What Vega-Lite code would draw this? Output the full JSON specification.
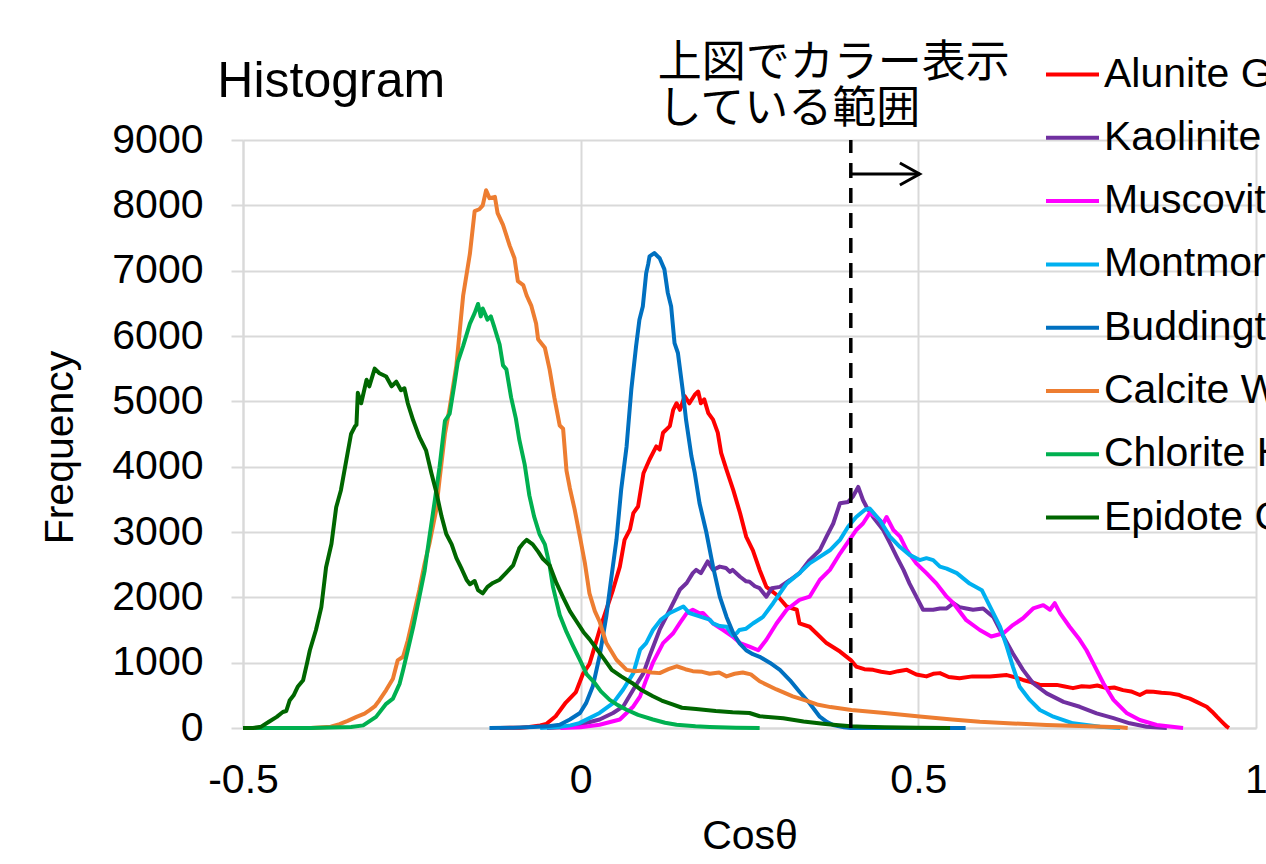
{
"$schema": "https://vega.github.io/schema/vega-lite/v6.json",
"width": 1013, "height": 588,
"autosize": {"type": "none"},
"padding": {"left": 243, "top": 140, "right": 10, "bottom": 136},
"background": "white",
"config": {"font": "Liberation Sans", "view": {"stroke": null}},
"datasets": {
"names": [
{"s":"Al","mineral":"Alunite GDS84 Na03"},{"s":"Ka","mineral":"Kaolinite CM9"},{"s":"Mu","mineral":"Muscovite GDS107"},{"s":"Mo","mineral":"Montmorillonite CM20"},{"s":"Bu","mineral":"Buddingtonite GDS85 D-206"},{"s":"Ca","mineral":"Calcite WS272"},{"s":"Ch","mineral":"Chlorite HS179.3B"},{"s":"Ep","mineral":"Epidote GDS26.75"}],
"curves": [
{"s":"Al","x":-0.12,"y":0},{"s":"Al","x":-0.09,"y":5},{"s":"Al","x":-0.076,"y":15},{"s":"Al","x":-0.06,"y":40},{"s":"Al","x":-0.051,"y":60},{"s":"Al","x":-0.037,"y":180},{"s":"Al","x":-0.022,"y":390},{"s":"Al","x":-0.007,"y":550},{"s":"Al","x":0.003,"y":820},{"s":"Al","x":0.013,"y":980},{"s":"Al","x":0.018,"y":1150},{"s":"Al","x":0.028,"y":1500},{"s":"Al","x":0.038,"y":1810},{"s":"Al","x":0.048,"y":2120},{"s":"Al","x":0.058,"y":2470},{"s":"Al","x":0.065,"y":2880},{"s":"Al","x":0.073,"y":3040},{"s":"Al","x":0.078,"y":3290},{"s":"Al","x":0.085,"y":3390},{"s":"Al","x":0.093,"y":3900},{"s":"Al","x":0.102,"y":4110},{"s":"Al","x":0.112,"y":4310},{"s":"Al","x":0.117,"y":4260},{"s":"Al","x":0.122,"y":4520},{"s":"Al","x":0.132,"y":4620},{"s":"Al","x":0.137,"y":4870},{"s":"Al","x":0.142,"y":4970},{"s":"Al","x":0.147,"y":4870},{"s":"Al","x":0.154,"y":5080},{"s":"Al","x":0.161,"y":4970},{"s":"Al","x":0.169,"y":5100},{"s":"Al","x":0.174,"y":5150},{"s":"Al","x":0.178,"y":4970},{"s":"Al","x":0.183,"y":5030},{"s":"Al","x":0.189,"y":4820},{"s":"Al","x":0.196,"y":4720},{"s":"Al","x":0.203,"y":4520},{"s":"Al","x":0.208,"y":4210},{"s":"Al","x":0.216,"y":3950},{"s":"Al","x":0.226,"y":3640},{"s":"Al","x":0.236,"y":3290},{"s":"Al","x":0.245,"y":2930},{"s":"Al","x":0.255,"y":2720},{"s":"Al","x":0.265,"y":2420},{"s":"Al","x":0.275,"y":2160},{"s":"Al","x":0.29,"y":2040},{"s":"Al","x":0.305,"y":1860},{"s":"Al","x":0.32,"y":1810},{"s":"Al","x":0.324,"y":1600},{"s":"Al","x":0.339,"y":1550},{"s":"Al","x":0.349,"y":1450},{"s":"Al","x":0.364,"y":1300},{"s":"Al","x":0.384,"y":1170},{"s":"Al","x":0.4,"y":1040},{"s":"Al","x":0.408,"y":940},{"s":"Al","x":0.42,"y":900},{"s":"Al","x":0.433,"y":890},{"s":"Al","x":0.445,"y":860},{"s":"Al","x":0.458,"y":840},{"s":"Al","x":0.47,"y":870},{"s":"Al","x":0.483,"y":890},{"s":"Al","x":0.497,"y":820},{"s":"Al","x":0.512,"y":790},{"s":"Al","x":0.522,"y":830},{"s":"Al","x":0.532,"y":840},{"s":"Al","x":0.545,"y":780},{"s":"Al","x":0.561,"y":760},{"s":"Al","x":0.58,"y":790},{"s":"Al","x":0.606,"y":790},{"s":"Al","x":0.631,"y":810},{"s":"Al","x":0.645,"y":770},{"s":"Al","x":0.655,"y":735},{"s":"Al","x":0.668,"y":700},{"s":"Al","x":0.68,"y":660},{"s":"Al","x":0.705,"y":660},{"s":"Al","x":0.715,"y":640},{"s":"Al","x":0.729,"y":610},{"s":"Al","x":0.742,"y":640},{"s":"Al","x":0.754,"y":630},{"s":"Al","x":0.765,"y":650},{"s":"Al","x":0.779,"y":610},{"s":"Al","x":0.79,"y":620},{"s":"Al","x":0.803,"y":580},{"s":"Al","x":0.815,"y":560},{"s":"Al","x":0.828,"y":505},{"s":"Al","x":0.838,"y":560},{"s":"Al","x":0.848,"y":555},{"s":"Al","x":0.86,"y":540},{"s":"Al","x":0.873,"y":530},{"s":"Al","x":0.885,"y":510},{"s":"Al","x":0.892,"y":480},{"s":"Al","x":0.902,"y":450},{"s":"Al","x":0.912,"y":400},{"s":"Al","x":0.92,"y":360},{"s":"Al","x":0.927,"y":325},{"s":"Al","x":0.935,"y":250},{"s":"Al","x":0.942,"y":173},{"s":"Al","x":0.95,"y":90},{"s":"Al","x":0.957,"y":20},{"s":"Al","x":0.96,"y":0},
{"s":"Ka","x":-0.05,"y":0},{"s":"Ka","x":-0.02,"y":15},{"s":"Ka","x":-0.002,"y":50},{"s":"Ka","x":0.028,"y":130},{"s":"Ka","x":0.048,"y":230},{"s":"Ka","x":0.063,"y":330},{"s":"Ka","x":0.078,"y":590},{"s":"Ka","x":0.093,"y":840},{"s":"Ka","x":0.102,"y":1100},{"s":"Ka","x":0.117,"y":1505},{"s":"Ka","x":0.132,"y":1810},{"s":"Ka","x":0.147,"y":2120},{"s":"Ka","x":0.157,"y":2220},{"s":"Ka","x":0.166,"y":2370},{"s":"Ka","x":0.171,"y":2420},{"s":"Ka","x":0.178,"y":2370},{"s":"Ka","x":0.188,"y":2550},{"s":"Ka","x":0.196,"y":2420},{"s":"Ka","x":0.206,"y":2470},{"s":"Ka","x":0.215,"y":2450},{"s":"Ka","x":0.221,"y":2390},{"s":"Ka","x":0.225,"y":2420},{"s":"Ka","x":0.236,"y":2315},{"s":"Ka","x":0.245,"y":2245},{"s":"Ka","x":0.25,"y":2240},{"s":"Ka","x":0.258,"y":2170},{"s":"Ka","x":0.265,"y":2140},{"s":"Ka","x":0.275,"y":2010},{"s":"Ka","x":0.283,"y":2140},{"s":"Ka","x":0.295,"y":2160},{"s":"Ka","x":0.31,"y":2265},{"s":"Ka","x":0.324,"y":2370},{"s":"Ka","x":0.339,"y":2570},{"s":"Ka","x":0.354,"y":2720},{"s":"Ka","x":0.364,"y":2930},{"s":"Ka","x":0.374,"y":3130},{"s":"Ka","x":0.384,"y":3440},{"s":"Ka","x":0.396,"y":3460},{"s":"Ka","x":0.403,"y":3540},{"s":"Ka","x":0.411,"y":3690},{"s":"Ka","x":0.418,"y":3490},{"s":"Ka","x":0.423,"y":3390},{"s":"Ka","x":0.433,"y":3230},{"s":"Ka","x":0.448,"y":3030},{"s":"Ka","x":0.458,"y":2830},{"s":"Ka","x":0.468,"y":2620},{"s":"Ka","x":0.478,"y":2420},{"s":"Ka","x":0.487,"y":2210},{"s":"Ka","x":0.497,"y":2010},{"s":"Ka","x":0.507,"y":1810},{"s":"Ka","x":0.522,"y":1810},{"s":"Ka","x":0.532,"y":1830},{"s":"Ka","x":0.542,"y":1830},{"s":"Ka","x":0.552,"y":1910},{"s":"Ka","x":0.561,"y":1850},{"s":"Ka","x":0.571,"y":1830},{"s":"Ka","x":0.581,"y":1810},{"s":"Ka","x":0.596,"y":1830},{"s":"Ka","x":0.611,"y":1700},{"s":"Ka","x":0.626,"y":1400},{"s":"Ka","x":0.64,"y":1140},{"s":"Ka","x":0.655,"y":890},{"s":"Ka","x":0.67,"y":685},{"s":"Ka","x":0.69,"y":530},{"s":"Ka","x":0.715,"y":400},{"s":"Ka","x":0.739,"y":325},{"s":"Ka","x":0.764,"y":225},{"s":"Ka","x":0.789,"y":150},{"s":"Ka","x":0.813,"y":72},{"s":"Ka","x":0.838,"y":20},{"s":"Ka","x":0.868,"y":0},
{"s":"Mu","x":-0.03,"y":0},{"s":"Mu","x":0.0,"y":10},{"s":"Mu","x":0.028,"y":50},{"s":"Mu","x":0.058,"y":130},{"s":"Mu","x":0.078,"y":330},{"s":"Mu","x":0.088,"y":485},{"s":"Mu","x":0.097,"y":740},{"s":"Mu","x":0.107,"y":1000},{"s":"Mu","x":0.122,"y":1300},{"s":"Mu","x":0.137,"y":1450},{"s":"Mu","x":0.147,"y":1610},{"s":"Mu","x":0.157,"y":1760},{"s":"Mu","x":0.166,"y":1810},{"s":"Mu","x":0.176,"y":1755},{"s":"Mu","x":0.181,"y":1760},{"s":"Mu","x":0.196,"y":1600},{"s":"Mu","x":0.211,"y":1500},{"s":"Mu","x":0.225,"y":1400},{"s":"Mu","x":0.236,"y":1300},{"s":"Mu","x":0.25,"y":1245},{"s":"Mu","x":0.263,"y":1190},{"s":"Mu","x":0.275,"y":1350},{"s":"Mu","x":0.29,"y":1600},{"s":"Mu","x":0.305,"y":1810},{"s":"Mu","x":0.324,"y":1960},{"s":"Mu","x":0.339,"y":2010},{"s":"Mu","x":0.354,"y":2265},{"s":"Mu","x":0.369,"y":2420},{"s":"Mu","x":0.384,"y":2670},{"s":"Mu","x":0.398,"y":2880},{"s":"Mu","x":0.408,"y":3030},{"s":"Mu","x":0.418,"y":3130},{"s":"Mu","x":0.428,"y":3290},{"s":"Mu","x":0.438,"y":3230},{"s":"Mu","x":0.448,"y":3130},{"s":"Mu","x":0.453,"y":3230},{"s":"Mu","x":0.463,"y":3030},{"s":"Mu","x":0.473,"y":2930},{"s":"Mu","x":0.483,"y":2720},{"s":"Mu","x":0.497,"y":2520},{"s":"Mu","x":0.512,"y":2370},{"s":"Mu","x":0.527,"y":2210},{"s":"Mu","x":0.542,"y":2010},{"s":"Mu","x":0.552,"y":1910},{"s":"Mu","x":0.571,"y":1650},{"s":"Mu","x":0.591,"y":1500},{"s":"Mu","x":0.608,"y":1400},{"s":"Mu","x":0.626,"y":1450},{"s":"Mu","x":0.64,"y":1575},{"s":"Mu","x":0.655,"y":1680},{"s":"Mu","x":0.67,"y":1830},{"s":"Mu","x":0.685,"y":1880},{"s":"Mu","x":0.695,"y":1810},{"s":"Mu","x":0.702,"y":1910},{"s":"Mu","x":0.71,"y":1755},{"s":"Mu","x":0.724,"y":1550},{"s":"Mu","x":0.739,"y":1350},{"s":"Mu","x":0.749,"y":1190},{"s":"Mu","x":0.759,"y":990},{"s":"Mu","x":0.774,"y":685},{"s":"Mu","x":0.789,"y":430},{"s":"Mu","x":0.809,"y":225},{"s":"Mu","x":0.828,"y":122},{"s":"Mu","x":0.853,"y":46},{"s":"Mu","x":0.892,"y":0},
{"s":"Mo","x":-0.06,"y":0},{"s":"Mo","x":-0.03,"y":20},{"s":"Mo","x":-0.015,"y":40},{"s":"Mo","x":-0.002,"y":75},{"s":"Mo","x":0.028,"y":230},{"s":"Mo","x":0.048,"y":380},{"s":"Mo","x":0.063,"y":590},{"s":"Mo","x":0.078,"y":840},{"s":"Mo","x":0.088,"y":1200},{"s":"Mo","x":0.097,"y":1300},{"s":"Mo","x":0.107,"y":1500},{"s":"Mo","x":0.119,"y":1660},{"s":"Mo","x":0.132,"y":1760},{"s":"Mo","x":0.142,"y":1810},{"s":"Mo","x":0.152,"y":1860},{"s":"Mo","x":0.161,"y":1760},{"s":"Mo","x":0.176,"y":1710},{"s":"Mo","x":0.191,"y":1660},{"s":"Mo","x":0.196,"y":1600},{"s":"Mo","x":0.206,"y":1560},{"s":"Mo","x":0.216,"y":1550},{"s":"Mo","x":0.225,"y":1420},{"s":"Mo","x":0.231,"y":1450},{"s":"Mo","x":0.235,"y":1500},{"s":"Mo","x":0.245,"y":1520},{"s":"Mo","x":0.255,"y":1600},{"s":"Mo","x":0.27,"y":1700},{"s":"Mo","x":0.285,"y":1910},{"s":"Mo","x":0.295,"y":2060},{"s":"Mo","x":0.305,"y":2210},{"s":"Mo","x":0.324,"y":2370},{"s":"Mo","x":0.339,"y":2520},{"s":"Mo","x":0.354,"y":2620},{"s":"Mo","x":0.369,"y":2720},{"s":"Mo","x":0.384,"y":2880},{"s":"Mo","x":0.396,"y":3080},{"s":"Mo","x":0.408,"y":3230},{"s":"Mo","x":0.421,"y":3340},{"s":"Mo","x":0.428,"y":3360},{"s":"Mo","x":0.443,"y":3180},{"s":"Mo","x":0.458,"y":2930},{"s":"Mo","x":0.473,"y":2770},{"s":"Mo","x":0.487,"y":2650},{"s":"Mo","x":0.502,"y":2570},{"s":"Mo","x":0.512,"y":2600},{"s":"Mo","x":0.522,"y":2570},{"s":"Mo","x":0.532,"y":2470},{"s":"Mo","x":0.542,"y":2440},{"s":"Mo","x":0.557,"y":2370},{"s":"Mo","x":0.576,"y":2210},{"s":"Mo","x":0.594,"y":2110},{"s":"Mo","x":0.606,"y":1860},{"s":"Mo","x":0.621,"y":1550},{"s":"Mo","x":0.631,"y":1245},{"s":"Mo","x":0.64,"y":940},{"s":"Mo","x":0.65,"y":630},{"s":"Mo","x":0.665,"y":430},{"s":"Mo","x":0.68,"y":275},{"s":"Mo","x":0.7,"y":173},{"s":"Mo","x":0.729,"y":72},{"s":"Mo","x":0.769,"y":20},{"s":"Mo","x":0.799,"y":0},
{"s":"Bu","x":-0.135,"y":0},{"s":"Bu","x":-0.1,"y":5},{"s":"Bu","x":-0.07,"y":15},{"s":"Bu","x":-0.05,"y":25},{"s":"Bu","x":-0.031,"y":50},{"s":"Bu","x":-0.016,"y":130},{"s":"Bu","x":-0.001,"y":230},{"s":"Bu","x":0.008,"y":380},{"s":"Bu","x":0.018,"y":640},{"s":"Bu","x":0.028,"y":1100},{"s":"Bu","x":0.038,"y":1710},{"s":"Bu","x":0.045,"y":2270},{"s":"Bu","x":0.053,"y":2880},{"s":"Bu","x":0.06,"y":3650},{"s":"Bu","x":0.068,"y":4310},{"s":"Bu","x":0.075,"y":5180},{"s":"Bu","x":0.082,"y":5840},{"s":"Bu","x":0.087,"y":6250},{"s":"Bu","x":0.092,"y":6450},{"s":"Bu","x":0.097,"y":6960},{"s":"Bu","x":0.1,"y":7100},{"s":"Bu","x":0.102,"y":7220},{"s":"Bu","x":0.109,"y":7270},{"s":"Bu","x":0.117,"y":7190},{"s":"Bu","x":0.124,"y":7020},{"s":"Bu","x":0.129,"y":6660},{"s":"Bu","x":0.134,"y":6450},{"s":"Bu","x":0.139,"y":5890},{"s":"Bu","x":0.144,"y":5740},{"s":"Bu","x":0.151,"y":5180},{"s":"Bu","x":0.156,"y":4720},{"s":"Bu","x":0.164,"y":4160},{"s":"Bu","x":0.169,"y":3900},{"s":"Bu","x":0.176,"y":3440},{"s":"Bu","x":0.186,"y":3000},{"s":"Bu","x":0.196,"y":2470},{"s":"Bu","x":0.206,"y":2010},{"s":"Bu","x":0.216,"y":1700},{"s":"Bu","x":0.226,"y":1450},{"s":"Bu","x":0.235,"y":1300},{"s":"Bu","x":0.245,"y":1190},{"s":"Bu","x":0.255,"y":1130},{"s":"Bu","x":0.265,"y":1090},{"s":"Bu","x":0.28,"y":1000},{"s":"Bu","x":0.295,"y":890},{"s":"Bu","x":0.31,"y":730},{"s":"Bu","x":0.324,"y":555},{"s":"Bu","x":0.339,"y":378},{"s":"Bu","x":0.354,"y":173},{"s":"Bu","x":0.365,"y":90},{"s":"Bu","x":0.374,"y":46},{"s":"Bu","x":0.39,"y":10},{"s":"Bu","x":0.4,"y":0},{"s":"Bu","x":0.57,"y":0},
{"s":"Ca","x":-0.4,"y":0},{"s":"Ca","x":-0.37,"y":20},{"s":"Ca","x":-0.357,"y":60},{"s":"Ca","x":-0.345,"y":110},{"s":"Ca","x":-0.332,"y":170},{"s":"Ca","x":-0.32,"y":220},{"s":"Ca","x":-0.313,"y":270},{"s":"Ca","x":-0.305,"y":330},{"s":"Ca","x":-0.298,"y":425},{"s":"Ca","x":-0.288,"y":580},{"s":"Ca","x":-0.278,"y":755},{"s":"Ca","x":-0.271,"y":1035},{"s":"Ca","x":-0.263,"y":1090},{"s":"Ca","x":-0.256,"y":1340},{"s":"Ca","x":-0.248,"y":1700},{"s":"Ca","x":-0.239,"y":2110},{"s":"Ca","x":-0.231,"y":2520},{"s":"Ca","x":-0.224,"y":2820},{"s":"Ca","x":-0.214,"y":3330},{"s":"Ca","x":-0.209,"y":3800},{"s":"Ca","x":-0.201,"y":4500},{"s":"Ca","x":-0.194,"y":4900},{"s":"Ca","x":-0.184,"y":5550},{"s":"Ca","x":-0.174,"y":6620},{"s":"Ca","x":-0.164,"y":7260},{"s":"Ca","x":-0.157,"y":7910},{"s":"Ca","x":-0.15,"y":7940},{"s":"Ca","x":-0.145,"y":8000},{"s":"Ca","x":-0.14,"y":8230},{"s":"Ca","x":-0.135,"y":8110},{"s":"Ca","x":-0.127,"y":8130},{"s":"Ca","x":-0.123,"y":7880},{"s":"Ca","x":-0.115,"y":7700},{"s":"Ca","x":-0.105,"y":7380},{"s":"Ca","x":-0.098,"y":7190},{"s":"Ca","x":-0.093,"y":6840},{"s":"Ca","x":-0.085,"y":6780},{"s":"Ca","x":-0.08,"y":6620},{"s":"Ca","x":-0.073,"y":6460},{"s":"Ca","x":-0.066,"y":6190},{"s":"Ca","x":-0.063,"y":5950},{"s":"Ca","x":-0.053,"y":5820},{"s":"Ca","x":-0.046,"y":5490},{"s":"Ca","x":-0.039,"y":5060},{"s":"Ca","x":-0.031,"y":4630},{"s":"Ca","x":-0.026,"y":4580},{"s":"Ca","x":-0.021,"y":3940},{"s":"Ca","x":-0.016,"y":3670},{"s":"Ca","x":-0.009,"y":3350},{"s":"Ca","x":-0.001,"y":2920},{"s":"Ca","x":0.006,"y":2540},{"s":"Ca","x":0.013,"y":2060},{"s":"Ca","x":0.021,"y":1790},{"s":"Ca","x":0.028,"y":1630},{"s":"Ca","x":0.038,"y":1300},{"s":"Ca","x":0.053,"y":1045},{"s":"Ca","x":0.068,"y":890},{"s":"Ca","x":0.08,"y":870},{"s":"Ca","x":0.093,"y":880},{"s":"Ca","x":0.105,"y":850},{"s":"Ca","x":0.117,"y":840},{"s":"Ca","x":0.13,"y":900},{"s":"Ca","x":0.142,"y":945},{"s":"Ca","x":0.155,"y":900},{"s":"Ca","x":0.166,"y":870},{"s":"Ca","x":0.18,"y":860},{"s":"Ca","x":0.191,"y":830},{"s":"Ca","x":0.205,"y":850},{"s":"Ca","x":0.216,"y":790},{"s":"Ca","x":0.228,"y":830},{"s":"Ca","x":0.24,"y":850},{"s":"Ca","x":0.252,"y":820},{"s":"Ca","x":0.265,"y":715},{"s":"Ca","x":0.29,"y":590},{"s":"Ca","x":0.314,"y":485},{"s":"Ca","x":0.334,"y":420},{"s":"Ca","x":0.35,"y":360},{"s":"Ca","x":0.37,"y":320},{"s":"Ca","x":0.401,"y":275},{"s":"Ca","x":0.45,"y":230},{"s":"Ca","x":0.502,"y":175},{"s":"Ca","x":0.55,"y":130},{"s":"Ca","x":0.591,"y":97},{"s":"Ca","x":0.64,"y":70},{"s":"Ca","x":0.69,"y":46},{"s":"Ca","x":0.75,"y":25},{"s":"Ca","x":0.799,"y":10},{"s":"Ca","x":0.81,"y":0},
{"s":"Ch","x":-0.5,"y":0},{"s":"Ch","x":-0.4,"y":0},{"s":"Ch","x":-0.34,"y":15},{"s":"Ch","x":-0.322,"y":40},{"s":"Ch","x":-0.303,"y":170},{"s":"Ch","x":-0.288,"y":370},{"s":"Ch","x":-0.278,"y":450},{"s":"Ch","x":-0.268,"y":680},{"s":"Ch","x":-0.263,"y":885},{"s":"Ch","x":-0.256,"y":1190},{"s":"Ch","x":-0.248,"y":1545},{"s":"Ch","x":-0.239,"y":2000},{"s":"Ch","x":-0.231,"y":2410},{"s":"Ch","x":-0.224,"y":2920},{"s":"Ch","x":-0.216,"y":3480},{"s":"Ch","x":-0.209,"y":3990},{"s":"Ch","x":-0.201,"y":4700},{"s":"Ch","x":-0.194,"y":4810},{"s":"Ch","x":-0.187,"y":5260},{"s":"Ch","x":-0.182,"y":5600},{"s":"Ch","x":-0.174,"y":5850},{"s":"Ch","x":-0.164,"y":6190},{"s":"Ch","x":-0.157,"y":6350},{"s":"Ch","x":-0.152,"y":6490},{"s":"Ch","x":-0.148,"y":6300},{"s":"Ch","x":-0.145,"y":6420},{"s":"Ch","x":-0.14,"y":6300},{"s":"Ch","x":-0.138,"y":6250},{"s":"Ch","x":-0.133,"y":6300},{"s":"Ch","x":-0.128,"y":6140},{"s":"Ch","x":-0.12,"y":5870},{"s":"Ch","x":-0.115,"y":5550},{"s":"Ch","x":-0.11,"y":5490},{"s":"Ch","x":-0.103,"y":5060},{"s":"Ch","x":-0.096,"y":4740},{"s":"Ch","x":-0.091,"y":4420},{"s":"Ch","x":-0.083,"y":4040},{"s":"Ch","x":-0.076,"y":3560},{"s":"Ch","x":-0.069,"y":3240},{"s":"Ch","x":-0.061,"y":2970},{"s":"Ch","x":-0.053,"y":2810},{"s":"Ch","x":-0.046,"y":2490},{"s":"Ch","x":-0.041,"y":2160},{"s":"Ch","x":-0.031,"y":1730},{"s":"Ch","x":-0.021,"y":1470},{"s":"Ch","x":-0.011,"y":1250},{"s":"Ch","x":-0.001,"y":1040},{"s":"Ch","x":0.009,"y":820},{"s":"Ch","x":0.02,"y":700},{"s":"Ch","x":0.03,"y":560},{"s":"Ch","x":0.043,"y":430},{"s":"Ch","x":0.055,"y":350},{"s":"Ch","x":0.068,"y":280},{"s":"Ch","x":0.085,"y":200},{"s":"Ch","x":0.107,"y":130},{"s":"Ch","x":0.125,"y":80},{"s":"Ch","x":0.142,"y":50},{"s":"Ch","x":0.17,"y":25},{"s":"Ch","x":0.191,"y":15},{"s":"Ch","x":0.23,"y":5},{"s":"Ch","x":0.265,"y":0},
{"s":"Ep","x":-0.5,"y":0},{"s":"Ep","x":-0.485,"y":0},{"s":"Ep","x":-0.473,"y":20},{"s":"Ep","x":-0.461,"y":100},{"s":"Ep","x":-0.45,"y":170},{"s":"Ep","x":-0.441,"y":245},{"s":"Ep","x":-0.436,"y":260},{"s":"Ep","x":-0.431,"y":420},{"s":"Ep","x":-0.425,"y":500},{"s":"Ep","x":-0.419,"y":630},{"s":"Ep","x":-0.411,"y":730},{"s":"Ep","x":-0.405,"y":1000},{"s":"Ep","x":-0.401,"y":1190},{"s":"Ep","x":-0.392,"y":1500},{"s":"Ep","x":-0.384,"y":1850},{"s":"Ep","x":-0.377,"y":2460},{"s":"Ep","x":-0.369,"y":2820},{"s":"Ep","x":-0.362,"y":3380},{"s":"Ep","x":-0.355,"y":3640},{"s":"Ep","x":-0.347,"y":4100},{"s":"Ep","x":-0.34,"y":4500},{"s":"Ep","x":-0.334,"y":4620},{"s":"Ep","x":-0.332,"y":4640},{"s":"Ep","x":-0.33,"y":5130},{"s":"Ep","x":-0.325,"y":4970},{"s":"Ep","x":-0.317,"y":5330},{"s":"Ep","x":-0.313,"y":5230},{"s":"Ep","x":-0.305,"y":5500},{"s":"Ep","x":-0.298,"y":5430},{"s":"Ep","x":-0.288,"y":5380},{"s":"Ep","x":-0.28,"y":5230},{"s":"Ep","x":-0.273,"y":5300},{"s":"Ep","x":-0.266,"y":5170},{"s":"Ep","x":-0.261,"y":5200},{"s":"Ep","x":-0.256,"y":4970},{"s":"Ep","x":-0.248,"y":4710},{"s":"Ep","x":-0.239,"y":4460},{"s":"Ep","x":-0.229,"y":4250},{"s":"Ep","x":-0.221,"y":3900},{"s":"Ep","x":-0.214,"y":3620},{"s":"Ep","x":-0.206,"y":3240},{"s":"Ep","x":-0.199,"y":2970},{"s":"Ep","x":-0.191,"y":2810},{"s":"Ep","x":-0.184,"y":2600},{"s":"Ep","x":-0.176,"y":2430},{"s":"Ep","x":-0.169,"y":2270},{"s":"Ep","x":-0.164,"y":2200},{"s":"Ep","x":-0.157,"y":2250},{"s":"Ep","x":-0.152,"y":2110},{"s":"Ep","x":-0.145,"y":2060},{"s":"Ep","x":-0.138,"y":2160},{"s":"Ep","x":-0.13,"y":2220},{"s":"Ep","x":-0.12,"y":2270},{"s":"Ep","x":-0.11,"y":2380},{"s":"Ep","x":-0.1,"y":2490},{"s":"Ep","x":-0.091,"y":2750},{"s":"Ep","x":-0.085,"y":2830},{"s":"Ep","x":-0.08,"y":2880},{"s":"Ep","x":-0.075,"y":2840},{"s":"Ep","x":-0.071,"y":2810},{"s":"Ep","x":-0.063,"y":2700},{"s":"Ep","x":-0.056,"y":2590},{"s":"Ep","x":-0.046,"y":2490},{"s":"Ep","x":-0.036,"y":2220},{"s":"Ep","x":-0.026,"y":2000},{"s":"Ep","x":-0.016,"y":1790},{"s":"Ep","x":-0.006,"y":1630},{"s":"Ep","x":0.004,"y":1470},{"s":"Ep","x":0.013,"y":1360},{"s":"Ep","x":0.023,"y":1220},{"s":"Ep","x":0.035,"y":1050},{"s":"Ep","x":0.046,"y":890},{"s":"Ep","x":0.06,"y":790},{"s":"Ep","x":0.076,"y":690},{"s":"Ep","x":0.09,"y":580},{"s":"Ep","x":0.107,"y":485},{"s":"Ep","x":0.12,"y":420},{"s":"Ep","x":0.136,"y":360},{"s":"Ep","x":0.15,"y":310},{"s":"Ep","x":0.171,"y":290},{"s":"Ep","x":0.2,"y":260},{"s":"Ep","x":0.225,"y":240},{"s":"Ep","x":0.25,"y":230},{"s":"Ep","x":0.265,"y":180},{"s":"Ep","x":0.3,"y":150},{"s":"Ep","x":0.33,"y":100},{"s":"Ep","x":0.359,"y":65},{"s":"Ep","x":0.378,"y":45},{"s":"Ep","x":0.4,"y":25},{"s":"Ep","x":0.418,"y":20},{"s":"Ep","x":0.45,"y":10},{"s":"Ep","x":0.5,"y":5},{"s":"Ep","x":0.547,"y":0}
]},
"layer": [
{"data": {"name": "curves"},
 "transform": [{"lookup": "s", "from": {"data": {"name": "names"}, "key": "s", "fields": ["mineral"]}}],
 "mark": {"type": "line", "strokeWidth": 4, "strokeJoin": "round"},
 "encoding": {
  "x": {"field": "x", "type": "quantitative", "title": "Cosθ",
        "scale": {"domain": [-0.5, 1], "nice": false, "zero": false},
        "axis": {"values": [-0.5, 0, 0.5, 1], "labelExpr": "'' + datum.value", "labelFont": "Liberation Sans", "labelFontSize": 41, "labelColor": "black", "labelPadding": 32, "tickSize": 0, "ticks": false, "labelFlush": false, "labelOverlap": false, "grid": true, "gridColor": "#D9D9D9", "gridWidth": 2, "domainColor": "#D9D9D9", "domainWidth": 2, "titleFont": "Liberation Sans", "titleFontSize": 41, "titleFontWeight": "normal", "titleColor": "black", "titlePadding": 16}},
  "y": {"field": "y", "type": "quantitative", "title": "Frequency",
        "scale": {"domain": [0, 9000], "nice": false},
        "axis": {"values": [0,1000,2000,3000,4000,5000,6000,7000,8000,9000], "format": "d", "labelFont": "Liberation Sans", "labelFontSize": 41, "labelColor": "black", "labelPadding": 28, "tickSize": 12, "tickColor": "#D9D9D9", "tickWidth": 2, "grid": true, "gridColor": "#D9D9D9", "gridWidth": 2, "domainColor": "#D9D9D9", "domainWidth": 2, "titleFont": "Liberation Sans", "titleFontSize": 41, "titleFontWeight": "normal", "titleColor": "black", "titlePadding": 30, "titleY": 307}},
  "color": {"field": "mineral", "type": "nominal",
        "scale": {"domain": ["Alunite GDS84 Na03","Kaolinite CM9","Muscovite GDS107","Montmorillonite CM20","Buddingtonite GDS85 D-206","Calcite WS272","Chlorite HS179.3B","Epidote GDS26.75"],
                  "range": ["#FF0000","#7030A0","#FF00FF","#00B0F0","#0070C0","#ED7D31","#00B050","#006600"]},
        "legend": {"orient": "none", "legendX": 801, "legendY": -94, "title": null, "symbolType": "stroke", "symbolSize": 2809, "symbolStrokeWidth": 4, "labelFont": "Liberation Sans", "labelFontSize": 41, "labelColor": "black", "labelLimit": 2000, "labelOffset": 3, "rowPadding": 14.3, "padding": 0}}
 }},
{"data": {"values": [{}]},
 "mark": {"type": "rule", "color": "black", "strokeWidth": 3.5, "strokeDash": [15, 10]},
 "encoding": {"x": {"datum": 0.4, "type": "quantitative"}, "y": {"datum": 0, "type": "quantitative"}, "y2": {"datum": 9000}}},
{"data": {"values": [{}]},
 "mark": {"type": "rule", "color": "black", "strokeWidth": 3},
 "encoding": {"x": {"datum": 0.4, "type": "quantitative"}, "x2": {"datum": 0.502}, "y": {"datum": 8480, "type": "quantitative"}}},
{"data": {"values": [{}]},
 "mark": {"type": "point", "shape": "M -1.8 -1 L 0 0 L -1.8 1", "filled": false, "color": "black", "strokeWidth": 3, "size": 484, "opacity": 1},
 "encoding": {"x": {"datum": 0.502, "type": "quantitative"}, "y": {"datum": 8480, "type": "quantitative"}}},
{"data": {"values": [{}]},
 "mark": {"type": "text", "text": ["上図でカラー表示", "している範囲"], "font": "Noto Sans CJK JP", "fontSize": 44, "align": "left", "baseline": "top", "lineHeight": 46, "color": "black"},
 "encoding": {"x": {"datum": 0.114, "type": "quantitative"}, "y": {"datum": 10500, "type": "quantitative"}}},
{"data": {"values": [{}]},
 "mark": {"type": "text", "text": "Histogram", "font": "Liberation Sans", "fontSize": 50, "align": "left", "baseline": "alphabetic", "color": "black"},
 "encoding": {"x": {"datum": -0.538, "type": "quantitative"}, "y": {"datum": 9658, "type": "quantitative"}}}
]
}
